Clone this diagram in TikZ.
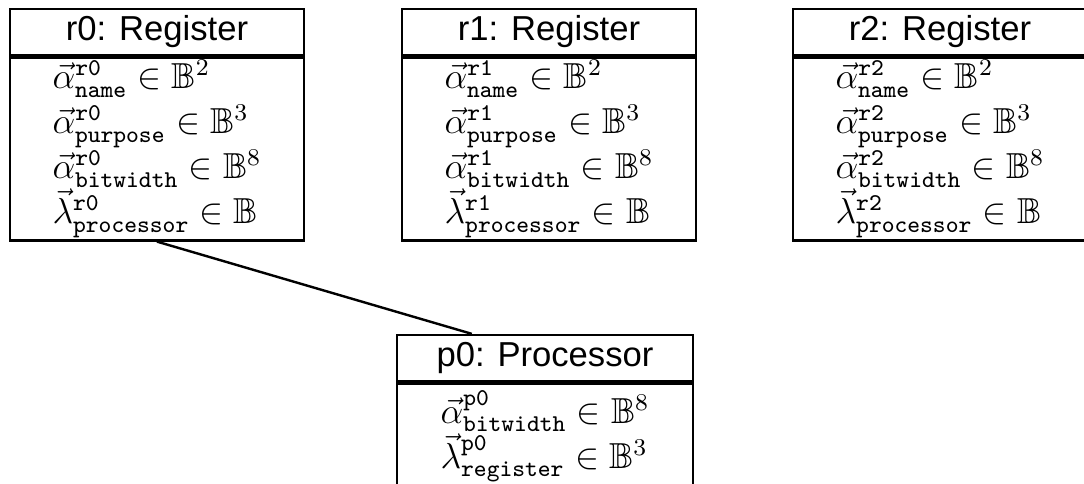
\documentclass[tikz,border=0pt]{standalone}
\usepackage{amssymb}
\usepackage{fontspec}
\setsansfont{Liberation Sans}
\usetikzlibrary{positioning}

% one attribute line: vector symbol, object, attribute, exponent
\newcommand{\attr}[4]{$\vec{#1}^{\mathtt{#2}}_{\mathtt{#3}} \in \mathbb{B}^{#4}$}
\newcommand{\attrfont}{\fontsize{12}{15}\selectfont\lineskiplimit=-10pt\relax}

\begin{document}
\begin{tikzpicture}[
	cls/.style={draw,line width=0.8pt,minimum width=3.43cm,minimum height=0.537cm,inner sep=0pt,font=\fontsize{11.5}{14}\sffamily},
	attrs/.style={draw,line width=0.8pt,minimum width=3.43cm,inner sep=0pt,align=left,font=\attrfont}]
	\useasboundingbox (0,0) rectangle (12.65,5.637);
	\clip (0,0) rectangle (12.65,5.637);
	\node[cls] (r0) at (1.832,5.264) {r0: Register};
	\node[attrs,minimum height=2.136cm,below=0pt of r0] (r0b) {\attr{\alpha}{r0}{name}{2}\\ \attr{\alpha}{r0}{purpose}{3}\\ \attr{\alpha}{r0}{bitwidth}{8}\\ \attr{\lambda}{r0}{processor}{}};
	\node[cls] (r1) at (6.407,5.264) {r1: Register};
	\node[attrs,minimum height=2.136cm,below=0pt of r1] (r1b) {\attr{\alpha}{r1}{name}{2}\\ \attr{\alpha}{r1}{purpose}{3}\\ \attr{\alpha}{r1}{bitwidth}{8}\\ \attr{\lambda}{r1}{processor}{}};
	\node[cls] (r2) at (10.97,5.264) {r2: Register};
	\node[attrs,minimum height=2.136cm,below=0pt of r2] (r2b) {\attr{\alpha}{r2}{name}{2}\\ \attr{\alpha}{r2}{purpose}{3}\\ \attr{\alpha}{r2}{bitwidth}{8}\\ \attr{\lambda}{r2}{processor}{}};
	\node[cls,minimum width=3.454cm] (p0) at (6.36,1.4585) {p0: Processor};
	\node[attrs,minimum width=3.454cm,minimum height=1.237cm,below=0pt of p0] (p0b) {\attr{\alpha}{p0}{bitwidth}{8}\\ \attr{\lambda}{p0}{register}{3}};
	%	link from the register to its processor
	\draw[line width=0.8pt] (r0b.south) -- ([xshift=0.887cm]p0.north west);
\end{tikzpicture}
\end{document}
